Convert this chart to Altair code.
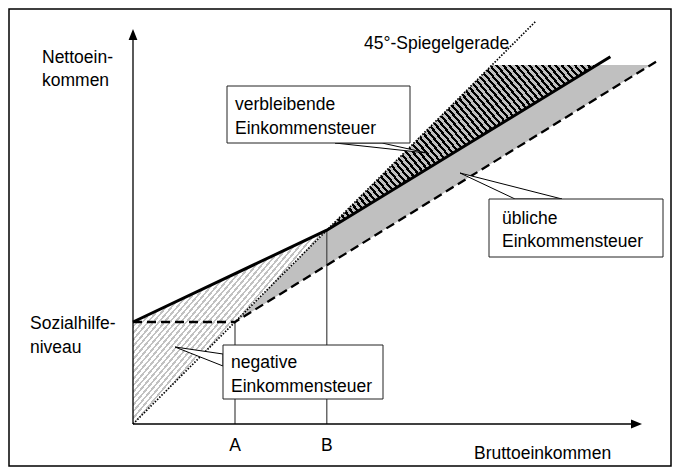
import altair as alt
import numpy as np
import pandas as pd

# ---------------- values (income units) ----------------
A_value = 10.0          # gross income A
B_value = 19.0          # gross income B
sozial_level = 10.0     # Sozialhilfeniveau

solid_x = [0.0, 19.0, 46.8]          # net income with negative income tax
solid_y = [10.0, 19.0, 36.0]
dash_x = [0.0, 10.0, 51.4]           # net income with usual income tax
dash_y = [10.0, 10.0, 35.6]
mirror_x = [0.0, 39.5]               # 45° mirror line
mirror_y = [0.0, 39.5]

neg_x = [0.0, 19.0]                  # negative income tax area
neg_lo = [0.0, 19.0]
neg_hi = [10.0, 19.0]

usual_x = [10.0, 19.0, 45.5, 50.75]  # usual income tax area
usual_lo = [10.0, 15.57, 31.95, 35.2]
usual_hi = [10.0, 19.0, 35.2, 35.2]

rest_x = [19.0, 35.2, 45.5]          # remaining income tax area
rest_lo = [19.0, 28.9, 35.2]
rest_hi = [19.0, 35.2, 35.2]

label_texts = ["Nettoein-", "kommen", "Sozialhilfe-", "niveau",
               "45°-Spiegelgerade", "Bruttoeinkommen"]
tick_texts = ["A", "B"]
box_texts = [["verbleibende", "Einkommensteuer"],
             ["übliche", "Einkommensteuer"],
             ["negative", "Einkommensteuer"]]

# ---------------- layout (page pixels -> data units) ----------------
PX = 10.2
OX, OY = 133.0, 424.0
def ux(p): return (p - OX) / PX
def uy(p): return (OY - p) / PX

PAD = 1
W, H = 680 - 16 - 2 * PAD, 475 - 16 - 2 * PAD
x0p, y0p = 8 + PAD, 8 + PAD
xdom = [ux(x0p), ux(x0p + W)]
ydom = [uy(y0p + H), uy(y0p)]

FONT = "Liberation Sans"
FS = 17.5

xs = alt.Scale(domain=xdom, nice=False, zero=False)
ys = alt.Scale(domain=ydom, nice=False, zero=False)
X = lambda f="x": alt.X(f"{f}:Q", scale=xs, axis=None)
Y = lambda f="y": alt.Y(f"{f}:Q", scale=ys, axis=None)


def hatch(xv, yv, theta_deg, period, c1, c2, frac=0.5):
    w = (max(xv) - min(xv)) * PX
    h = (max(yv) - min(yv)) * PX
    th = np.radians(theta_deg)
    d = np.array([np.cos(th), np.sin(th)])
    g = np.array([d[1] / h, -d[0] / w])
    corners = np.array([[0, 0], [1, 0], [0, 1], [1, 1]], float)
    proj = corners @ g
    p1 = corners[np.argmin(proj)]
    span = proj.max() - proj.min()
    p2 = p1 + g * span / (g @ g)
    n = np.array([-d[1], d[0]])
    cp = np.array([[0, 0], [w, 0], [0, h], [w, h]]) @ n
    N = (cp.max() - cp.min()) / period
    stops = [{"offset": 0.0, "color": c1}]
    k = 0
    while k / N < 1:
        a = min((k + frac) / N, 1.0)
        b = min((k + 1) / N, 1.0)
        stops += [{"offset": a, "color": c1}, {"offset": a, "color": c2},
                  {"offset": b, "color": c2}, {"offset": b, "color": c1}]
        k += 1
    return {"gradient": "linear", "x1": float(p1[0]), "y1": float(p1[1]),
            "x2": float(p2[0]), "y2": float(p2[1]), "stops": stops}


def area(xv, lo, hi, fill):
    df = pd.DataFrame({"x": xv, "y": lo, "y2": hi})
    return alt.Chart(df).mark_area(color=fill, strokeWidth=0).encode(
        x=X(), y=Y(), y2="y2:Q")


gray = "#c0c0c0"
usual_area = area(usual_x, usual_lo, usual_hi, gray)
neg_area = area(neg_x, neg_lo, neg_hi,
                hatch(neg_x, neg_lo + neg_hi, -50, 4.2, "#c2c2c2", "#ffffff", 0.42))
rest_area = area(rest_x, rest_lo, rest_hi,
                 hatch(rest_x, rest_lo + rest_hi, 50, 5.0, "#000000", gray, 0.45))


def line(xv, yv, **kw):
    df = pd.DataFrame({"x": xv, "y": yv})
    return alt.Chart(df).mark_line(color="black", **kw).encode(x=X(), y=Y())


mirror = line(mirror_x, mirror_y, strokeWidth=1.7, strokeDash=[1.5, 1.6])
dashed = line(dash_x, dash_y, strokeWidth=2.3, strokeDash=[9, 5])
solid = line(solid_x, solid_y, strokeWidth=3)

ab = alt.Chart(pd.DataFrame({"x": [A_value, B_value], "y": [0.0, 0.0],
                             "y2": [sozial_level, B_value]})).mark_rule(
    color="#444444", strokeWidth=1.2).encode(x=X(), y=Y(), y2="y2:Q")

ytip, xtip = 29.0, 642.0
axes = alt.Chart(pd.DataFrame({"x": [0.0, 0.0], "y": [0.0, 0.0],
                               "x2": [0.0, ux(xtip - 6)], "y2": [uy(ytip + 6), 0.0]})).mark_rule(
    color="black", strokeWidth=1.3).encode(x=X(), y=Y(), x2="x2:Q", y2="y2:Q")
arrow_up = alt.Chart(pd.DataFrame({"x": [0.0], "y": [uy(ytip + 5.5)]})).mark_point(
    shape="M0,-1L0.8,1L-0.8,1Z", size=121, filled=True, color="black", opacity=1,
    strokeWidth=0).encode(x=X(), y=Y())
arrow_right = alt.Chart(pd.DataFrame({"x": [ux(xtip - 5.5)], "y": [0.0]})).mark_point(
    shape="M1,0L-1,0.8L-1,-0.8Z", size=121, filled=True, color="black", opacity=1,
    strokeWidth=0).encode(x=X(), y=Y())

# callout wedges
w_h = pd.DataFrame({
    "grp": ["v", "v", "u", "u"],
    "y": [uy(153), uy(143), uy(173), uy(199)],
    "x": [ux(427), ux(335), ux(460), ux(515)],
    "x2": [ux(427), ux(382), ux(460), ux(562)],
})
wedges_h = alt.Chart(w_h).mark_area(orient="horizontal", fill="white",
                                    stroke="black", strokeWidth=1).encode(
    y=Y(), x=X(), x2="x2:Q", detail="grp:N")
w_v = pd.DataFrame({"x": [ux(175), ux(223)], "y": [uy(347), uy(354)],
                    "y2": [uy(347), uy(366)]})
wedge_v = alt.Chart(w_v).mark_area(fill="white", stroke="black", strokeWidth=1).encode(
    x=X(), y=Y(), y2="y2:Q")

box_px = [(227, 410, 86, 143), (489, 663, 199, 257), (223, 383, 345, 399)]
boxes = alt.Chart(pd.DataFrame({
    "x": [ux(b[0]) for b in box_px], "x2": [ux(b[1]) for b in box_px],
    "y": [uy(b[2]) for b in box_px], "y2": [uy(b[3]) for b in box_px]})).mark_rect(
    fill="white", stroke="#222222", strokeWidth=1).encode(
    x=X(), x2="x2:Q", y=Y(), y2="y2:Q")

text_pos = [(235, 110, 134), (502, 224, 247), (231, 368, 392)]
label_pos = [(42, 63), (42, 86), (30, 329), (30, 353), (364, 49), (474, 459)]
rows = []
for (t1, t2), (tx, b1, b2) in zip(box_texts, text_pos):
    rows.append({"x": ux(tx), "y": uy(b1), "t": t1})
    rows.append({"x": ux(tx), "y": uy(b2), "t": t2})
for t, (tx, ty) in zip(label_texts, label_pos):
    rows.append({"x": ux(tx), "y": uy(ty), "t": t})
texts = alt.Chart(pd.DataFrame(rows)).mark_text(
    align="left", baseline="alphabetic", font=FONT, fontSize=FS, color="black").encode(
    x=X(), y=Y(), text="t:N")
ticks = alt.Chart(pd.DataFrame({"x": [A_value, B_value], "y": [uy(451)] * 2,
                                "t": tick_texts})).mark_text(
    align="center", baseline="alphabetic", font=FONT, fontSize=FS, color="black").encode(
    x=X(), y=Y(), text="t:N")

chart = alt.layer(
    usual_area, neg_area, rest_area, ab, mirror, dashed, solid, axes,
    arrow_up, arrow_right, wedges_h, wedge_v, boxes, texts, ticks
).properties(
    width=W, height=H, padding=PAD, autosize=alt.AutoSizeParams(type="none"),
    background="white"
).configure_view(stroke="black", strokeWidth=1.5)

chart.save("out.html", embed_options={"renderer": "svg", "actions": False})
